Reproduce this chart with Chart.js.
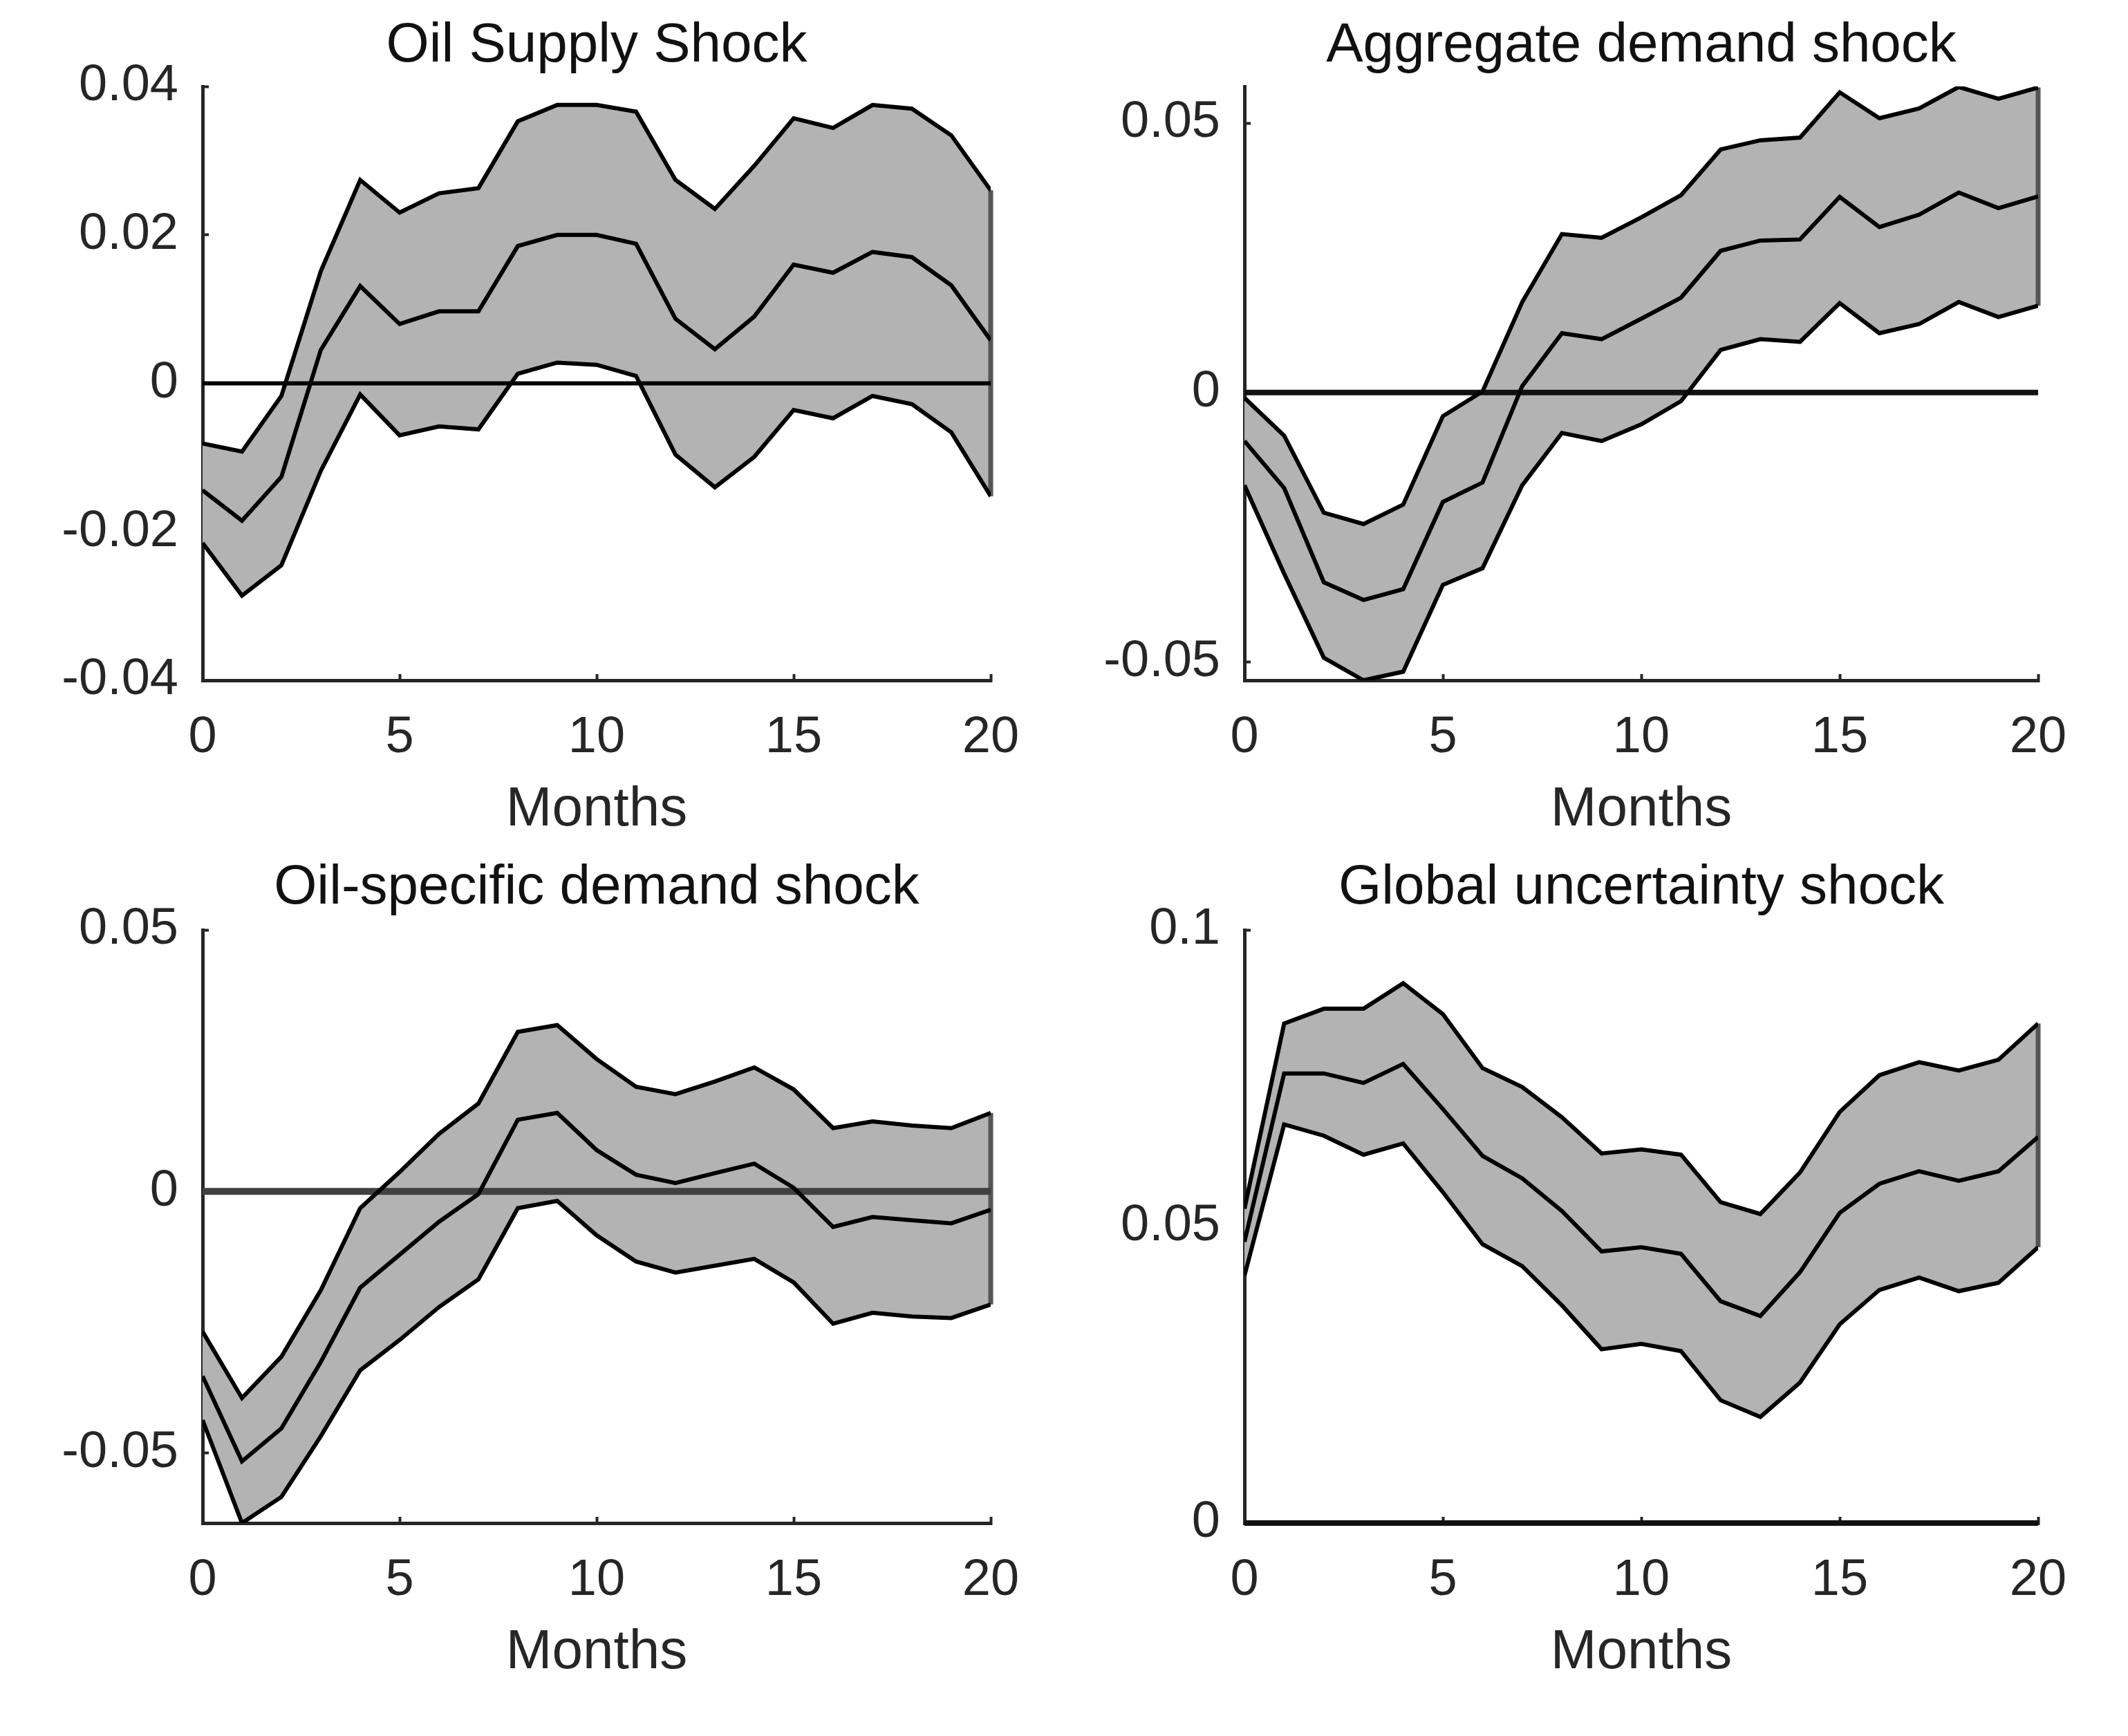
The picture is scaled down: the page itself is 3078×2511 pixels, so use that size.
<!DOCTYPE html>
<html>
<head>
<meta charset="utf-8">
<title>Impulse responses</title>
<script src="https://cdn.jsdelivr.net/npm/chart.js@4.4.1/dist/chart.umd.min.js"></script>
<style>
  html, body { margin: 0; padding: 0; background: #fff; }
  #wrap { position: relative; width: 3078px; height: 2511px; }
  .panel { position: absolute; }
</style>
</head>
<body>
<div id="wrap">
  <div class="panel" style="left:0;top:0;width:1539px;height:1255px"><canvas id="c1"></canvas></div>
  <div class="panel" style="left:1539px;top:0;width:1539px;height:1255px"><canvas id="c2"></canvas></div>
  <div class="panel" style="left:0;top:1200px;width:1539px;height:1311px"><canvas id="c3"></canvas></div>
  <div class="panel" style="left:1539px;top:1200px;width:1539px;height:1311px"><canvas id="c4"></canvas></div>
</div>
<script>
// ===== Data =====

const months = [0, 1, 2, 3, 4, 5, 6, 7, 8, 9, 10, 11, 12, 13, 14, 15, 16, 17, 18, 19, 20];
const xTicks = [0, 5, 10, 15, 20];

// Oil Supply Shock
const supplyUpper = [-0.0081, -0.0092, -0.0017, 0.0151, 0.0274, 0.0230, 0.0256, 0.0263, 0.0353, 0.0375, 0.0375, 0.0366, 0.0274, 0.0235, 0.0293, 0.0357, 0.0344, 0.0375, 0.0370, 0.0334, 0.0260];
const supplyMid   = [-0.0144, -0.0185, -0.0126, 0.0045, 0.0131, 0.0080, 0.0097, 0.0097, 0.0185, 0.0200, 0.0200, 0.0188, 0.0087, 0.0046, 0.0090, 0.0160, 0.0149, 0.0177, 0.0170, 0.0132, 0.0058];
const supplyLower = [-0.0215, -0.0286, -0.0245, -0.0118, -0.0015, -0.0070, -0.0058, -0.0062, 0.0013, 0.0028, 0.0025, 0.0010, -0.0096, -0.0140, -0.0099, -0.0036, -0.0047, -0.0017, -0.0028, -0.0066, -0.0152];
const supplyTicks = [-0.04, -0.02, 0, 0.02, 0.04];
const supplyTickLabels = ['-0.04', '-0.02', '0', '0.02', '0.04'];

// Aggregate demand shock
const aggUpper = [-0.0010, -0.0080, -0.0223, -0.0244, -0.0208, -0.0044, 0.0002, 0.0168, 0.0294, 0.0287, 0.0325, 0.0366, 0.0451, 0.0468, 0.0473, 0.0557, 0.0509, 0.0527, 0.0567, 0.0545, 0.0566];
const aggMid   = [-0.0090, -0.0177, -0.0352, -0.0385, -0.0365, -0.0203, -0.0167, 0.0012, 0.0110, 0.0099, 0.0137, 0.0176, 0.0263, 0.0282, 0.0284, 0.0363, 0.0307, 0.0330, 0.0371, 0.0342, 0.0364];
const aggLower = [-0.0172, -0.0336, -0.0492, -0.0534, -0.0518, -0.0357, -0.0326, -0.0172, -0.0075, -0.0090, -0.0059, -0.0016, 0.0079, 0.0099, 0.0094, 0.0166, 0.0110, 0.0127, 0.0168, 0.0140, 0.0161];
const aggTicks = [-0.05, 0, 0.05];
const aggTickLabels = ['-0.05', '0', '0.05'];

// Oil-specific demand shock
const oilDemUpper = [-0.0268, -0.0395, -0.0316, -0.0189, -0.0032, 0.0037, 0.0110, 0.0168, 0.0305, 0.0318, 0.0253, 0.0200, 0.0186, 0.0210, 0.0237, 0.0195, 0.0121, 0.0134, 0.0126, 0.0121, 0.0150];
const oilDemMid   = [-0.0353, -0.0516, -0.0453, -0.0326, -0.0184, -0.0121, -0.0058, -0.0005, 0.0137, 0.0150, 0.0079, 0.0032, 0.0016, 0.0035, 0.0053, 0.0007, -0.0068, -0.0049, -0.0055, -0.0061, -0.0035];
const oilDemLower = [-0.0437, -0.0634, -0.0584, -0.0468, -0.0342, -0.0284, -0.0221, -0.0168, -0.0032, -0.0018, -0.0084, -0.0134, -0.0155, -0.0142, -0.0129, -0.0174, -0.0253, -0.0232, -0.0239, -0.0242, -0.0216];
const oilDemTicks = [-0.05, 0, 0.05];
const oilDemTickLabels = ['-0.05', '0', '0.05'];

// Global uncertainty shock
const uncUpper = [0.0530, 0.0842, 0.0867, 0.0867, 0.0910, 0.0858, 0.0767, 0.0735, 0.0684, 0.0623, 0.0630, 0.0621, 0.0541, 0.0521, 0.0591, 0.0693, 0.0755, 0.0777, 0.0763, 0.0781, 0.0842];
const uncMid   = [0.0474, 0.0758, 0.0758, 0.0742, 0.0774, 0.0698, 0.0619, 0.0581, 0.0526, 0.0458, 0.0465, 0.0454, 0.0374, 0.0349, 0.0423, 0.0523, 0.0572, 0.0593, 0.0577, 0.0593, 0.0651];
const uncLower = [0.0417, 0.0672, 0.0653, 0.0621, 0.0640, 0.0558, 0.0470, 0.0433, 0.0367, 0.0293, 0.0302, 0.0290, 0.0207, 0.0179, 0.0237, 0.0335, 0.0393, 0.0414, 0.0391, 0.0405, 0.0465];
const uncTicks = [0, 0.05, 0.1];
const uncTickLabels = ['0', '0.05', '0.1'];

// ===== Drawing =====

const FONT = "'Liberation Sans', Arial, Helvetica, sans-serif";
const AXIS = '#262626';
const BAND = '#b3b3b3';

Chart.defaults.font.family = FONT;

function pts(arr) {
  return months.map((m, i) => ({ x: m, y: arr[i] }));
}

function makePanel(id, p) {
  const last = months.length - 1;
  const ctx = document.getElementById(id).getContext('2d');

  const datasets = [
    { data: pts(p.mid), borderColor: '#000', borderWidth: 6, fill: false },
    { data: pts(p.upper), borderColor: '#000', borderWidth: 6, fill: '+1', backgroundColor: BAND },
    { data: pts(p.lower), borderColor: '#000', borderWidth: 6, fill: false },
    {
      data: [{ x: months[0], y: 0 }, { x: months[last], y: 0 }],
      borderColor: p.zeroColor, borderWidth: p.zeroWidth, fill: false, clip: p.zeroClip
    },
    {
      // right edge of the confidence band (patch outline)
      data: [{ x: months[last], y: p.lower[last] }, { x: months[last], y: p.upper[last] }],
      borderColor: '#555555', borderWidth: 7, fill: false, clip: false
    }
  ];

  return new Chart(ctx, {
    type: 'line',
    data: { datasets },
    options: {
      responsive: true,
      maintainAspectRatio: false,
      devicePixelRatio: 1,
      animation: false,
      events: [],
      layout: { padding: { left: 0, right: p.padRight, top: 0, bottom: 0 } },
      elements: { point: { radius: 0 }, line: { tension: 0, borderCapStyle: 'butt', borderJoinStyle: 'miter' } },
      plugins: {
        legend: { display: false },
        tooltip: { enabled: false },
        filler: { drawTime: 'beforeDatasetsDraw' },
        title: {
          display: true,
          text: p.title,
          fullSize: false,
          color: '#111',
          font: { size: 80, weight: 'normal', lineHeight: 1.2 },
          padding: { top: p.titleTop, bottom: p.titleBottom }
        }
      },
      scales: {
        x: {
          type: 'linear',
          min: months[0],
          max: months[last],
          afterBuildTicks: s => { s.ticks = xTicks.map(v => ({ value: v })); },
          afterFit: s => { s.height = p.xAxisH; },
          ticks: { color: AXIS, padding: 48, font: { size: 74 }, callback: v => String(v), maxRotation: 0 },
          grid: { drawOnChartArea: false, drawTicks: true, tickLength: -9, color: AXIS, tickWidth: 4 },
          border: { display: true, color: AXIS, width: 5 },
          title: {
            display: true, text: 'Months', color: AXIS,
            font: { size: 80, lineHeight: 1.2 },
            padding: { top: 0, bottom: p.labelBottom }
          }
        },
        y: {
          type: 'linear',
          min: p.yMin,
          max: p.yMax,
          afterBuildTicks: s => { s.ticks = p.yTicks.map(v => ({ value: v })); },
          afterFit: s => { s.width = p.yAxisW; },
          ticks: {
            color: AXIS, padding: 44, font: { size: 74 },
            callback: (v, i) => p.yTickLabels[i]
          },
          grid: { drawOnChartArea: false, drawTicks: true, tickLength: -9, color: AXIS, tickWidth: 4 },
          border: { display: true, color: AXIS, width: 5 }
        }
      }
    }
  });
}

const topRow = { titleTop: 19, titleBottom: 10, xAxisH: 271, labelBottom: 35 };
const bottomRow = { titleTop: 37, titleBottom: 12, xAxisH: 308, labelBottom: 72 };
const leftCol = { yAxisW: 293, padRight: 106 };
const rightCol = { yAxisW: 261, padRight: 130 };

makePanel('c1', Object.assign({}, topRow, leftCol, {
  title: 'Oil Supply Shock',
  upper: supplyUpper, mid: supplyMid, lower: supplyLower,
  yMin: -0.04, yMax: 0.04, yTicks: supplyTicks, yTickLabels: supplyTickLabels,
  zeroColor: '#000', zeroWidth: 6, zeroClip: undefined
}));

makePanel('c2', Object.assign({}, topRow, rightCol, {
  title: 'Aggregate demand shock',
  upper: aggUpper, mid: aggMid, lower: aggLower,
  yMin: -0.0534, yMax: 0.0568, yTicks: aggTicks, yTickLabels: aggTickLabels,
  zeroColor: '#111', zeroWidth: 8, zeroClip: undefined
}));

makePanel('c3', Object.assign({}, bottomRow, leftCol, {
  title: 'Oil-specific demand shock',
  upper: oilDemUpper, mid: oilDemMid, lower: oilDemLower,
  yMin: -0.0634, yMax: 0.05, yTicks: oilDemTicks, yTickLabels: oilDemTickLabels,
  zeroColor: '#404040', zeroWidth: 10, zeroClip: undefined
}));

makePanel('c4', Object.assign({}, bottomRow, rightCol, {
  title: 'Global uncertainty shock',
  upper: uncUpper, mid: uncMid, lower: uncLower,
  yMin: 0, yMax: 0.1, yTicks: uncTicks, yTickLabels: uncTickLabels,
  zeroColor: '#111', zeroWidth: 8, zeroClip: false
}));
</script>
</body>
</html>
